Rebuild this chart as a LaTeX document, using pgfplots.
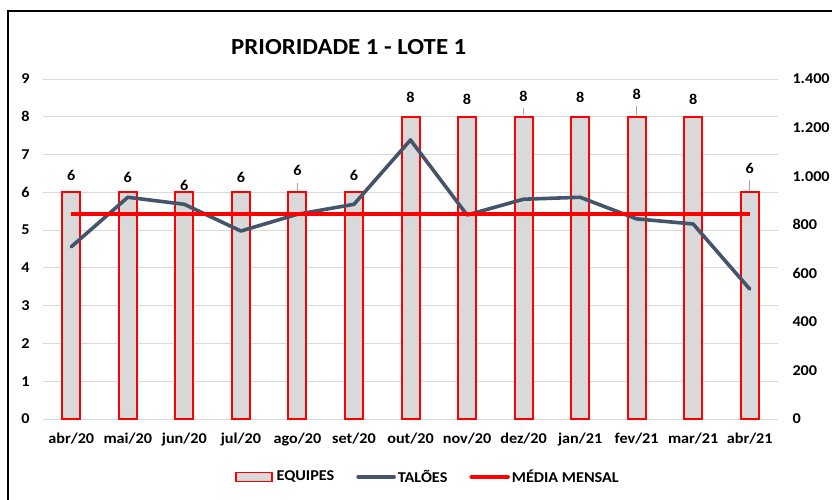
\documentclass[border=0pt]{standalone}
\usepackage{fontspec}
\setmainfont{Carlito}[FakeStretch=1.08]
\usepackage{pgfplots}
\usepackage{pgfplotstable}
\pgfplotsset{compat=1.18}

\definecolor{barGray}{HTML}{D9D9D9}
\definecolor{gridGray}{HTML}{D9D9D9}
\definecolor{slate}{HTML}{44546A}
\definecolor{xlred}{HTML}{FF0000}
\definecolor{leadGray}{HTML}{A6A6A6}

\newcommand\lbl{\fontsize{15bp}{18bp}\selectfont\bfseries}

% month index, EQUIPES (left axis), TALOES (right axis),
% height (left-axis units) where the data label is centred
\pgfplotstableread{
idx equipes taloes laby
0  6  709   6.445
1  6  913   6.405
2  6  884   6.180
3  6  774   6.405
4  6  843   6.578
5  6  884   6.445
6  8  1149  8.523
7  8  840   8.470
8  8  905   8.549
9  8  913   8.523
10 8  824   8.602
11 8  803   8.470
12 6  535   6.644
}\data

\pgfplotsset{
  base/.style={
    at={(43bp,81bp)}, anchor=south west,
    scale only axis, width=735bp, height=340bp,
    xmin=-0.5, xmax=12.5,
    axis line style={draw=none},
    major tick length=0pt,
    clip=false,
    /pgf/number format/assume math mode=true,
    ticklabel style={font=\lbl},
  }
}

\begin{document}
\begin{tikzpicture}
\useasboundingbox (0,0) rectangle (832bp,500bp);
\draw[black, line width=1.4bp] (8bp,0) -- (8bp,489bp) -- (832bp,489bp);

\begin{axis}[base,
  ymin=0, ymax=9, ytick={0,1,...,9},
  ymajorgrids, grid style={gridGray, line width=0.9bp},
  yticklabel style={xshift=-10bp},
  xtick={0,...,12},
  xticklabels={abr/20,mai/20,jun/20,jul/20,ago/20,set/20,out/20,nov/20,dez/20,jan/21,fev/21,mar/21,abr/21},
  xticklabel style={yshift=-10bp},
  title={\fontsize{23bp}{27bp}\selectfont\bfseries PRIORIDADE 1 - LOTE 1},
  title style={at={(0.416,1.076)}, anchor=center},
]
\addplot[ybar, bar width=18bp, fill=barGray, draw=xlred, line width=2bp]
  table[x=idx, y=equipes]{\data};
% leader lines of the raised labels
\addplot[leadGray, line width=0.9bp, unbounded coords=jump] coordinates {
  (4,6.04) (4,6.25) (4,nan)
  (8,8.04) (8,8.23) (8,nan)
  (10,8.04) (10,8.28) (10,nan)
  (12,6.04) (12,6.33)};
% data labels
\addplot[draw=none, mark=none, point meta=explicit,
  nodes near coords, nodes near coords align={center},
  nodes near coords style={font=\lbl, anchor=center}]
  table[x=idx, y=laby, meta=equipes]{\data};
\end{axis}

\begin{axis}[base,
  ymin=0, ymax=1400, ytick={0,200,...,1400},
  axis y line*=right, axis x line=none,
  yticklabel style={xshift=11bp},
  /pgf/number format/1000 sep={.},
  legend columns=3,
  legend style={draw=none, fill=none, font=\lbl,
    at={(0.524,-0.17)}, anchor=center,
    /tikz/every even column/.append style={column sep=20bp},
    inner sep=0pt},
]
\addlegendimage{legend image code/.code={\draw[fill=barGray, draw=xlred, line width=1.2bp] (0bp,-4.5bp) rectangle (36bp,4.5bp);}}
\addlegendentry{\hspace{2bp}EQUIPES}
\addplot[slate, line width=3.6bp, line join=round, line cap=round,
  legend image code/.code={\draw[slate, line width=3.6bp, line cap=round] (0bp,0bp) -- (36bp,0bp);}]
  table[x=idx, y=taloes]{\data};
\addlegendentry{TALÕES}
\addplot[xlred, line width=4.5bp,
  legend image code/.code={\draw[xlred, line width=4.5bp, line cap=round] (0bp,0bp) -- (36bp,0bp);}]
  coordinates {(0,844) (12,844)};
\addlegendentry{MÉDIA MENSAL}
\end{axis}
\end{tikzpicture}
\end{document}
